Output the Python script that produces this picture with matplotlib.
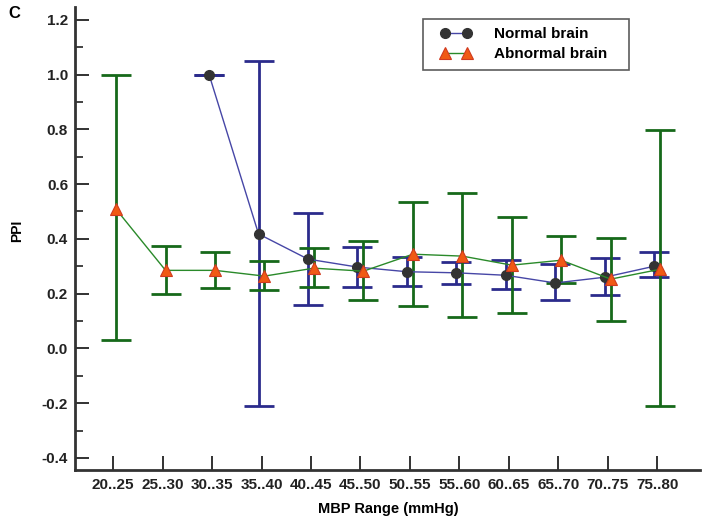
import numpy as np
import matplotlib
matplotlib.use('Agg')
import matplotlib.pyplot as plt
from matplotlib.ticker import MultipleLocator
from matplotlib.lines import Line2D
from matplotlib.legend_handler import HandlerLine2D

plt.rcParams['font.family'] = ['Liberation Sans', 'DejaVu Sans']
plt.rcParams['font.weight'] = 'bold'

# Faixas de pressao arterial media
faixas = ['20..25', '25..30', '30..35', '35..40', '40..45', '45..50',
          '50..55', '55..60', '60..65', '65..70', '70..75', '75..80']

# Cerebro normal (sem dados nas duas primeiras faixas)
normal_ppi = [np.nan, np.nan, 1.0, 0.418, 0.326, 0.297, 0.28, 0.276, 0.267, 0.239, 0.26, 0.30]
normal_sup = [np.nan, np.nan, 1.0, 1.048, 0.494, 0.37, 0.334, 0.316, 0.322, 0.309, 0.329, 0.352]
normal_inf = [np.nan, np.nan, 1.0, -0.212, 0.157, 0.224, 0.227, 0.235, 0.217, 0.177, 0.195, 0.259]

# Cerebro anormal
anormal_ppi = [0.508, 0.285, 0.285, 0.264, 0.293, 0.282, 0.344, 0.337, 0.304, 0.322, 0.253, 0.289]
anormal_sup = [1.0, 0.373, 0.352, 0.318, 0.366, 0.392, 0.535, 0.568, 0.48, 0.41, 0.403, 0.799]
anormal_inf = [0.03, 0.197, 0.22, 0.212, 0.223, 0.176, 0.154, 0.114, 0.128, 0.238, 0.099, -0.212]

x = np.arange(len(faixas))
n_ppi = np.array(normal_ppi)
a_ppi = np.array(anormal_ppi)
n_err = [n_ppi - np.array(normal_inf), np.array(normal_sup) - n_ppi]
a_err = [a_ppi - np.array(anormal_inf), np.array(anormal_sup) - a_ppi]

fig = plt.figure(figsize=(7.08, 5.25), dpi=100)
ax = fig.add_axes([0.106, 0.1048, 0.883, 0.882])

# barras de erro
ax.errorbar(x - 0.06, n_ppi, yerr=n_err, fmt='none', ecolor='#2b2b8c',
            elinewidth=2, capsize=11, capthick=2, zorder=2)
ax.errorbar(x + 0.06, a_ppi, yerr=a_err, fmt='none', ecolor='#16691a',
            elinewidth=2, capsize=11, capthick=2, zorder=2)

# linhas e marcadores
ax.plot(x - 0.06, n_ppi, color='#4646a6', lw=1, marker='o', ms=7,
        mfc='#333333', mec='#333333', label='Normal brain', zorder=3)
ax.plot(x + 0.06, a_ppi, color='#2a8a2a', lw=1, marker='^', ms=9,
        mfc='#f05a14', mec='#d03a20', mew=0.8, label='Abnormal brain', zorder=4)

ax.set_xlim(-0.77, 11.87)
ax.set_ylim(-0.444, 1.247)
ax.set_xticks(x)
ax.set_xticklabels(faixas)
ax.yaxis.set_minor_locator(MultipleLocator(0.1))
ax.set_yticks([-0.4, -0.2, 0.0, 0.2, 0.4, 0.6, 0.8, 1.0, 1.2])
ax.set_yticklabels(['-0.4', '-0.2', '0.0', '0.2', '0.4', '0.6', '0.8', '1.0', '1.2'])

ax.tick_params(axis='both', which='major', direction='in', length=10, width=1.3,
               colors='#222222', labelsize=11, pad=5)
ax.tick_params(axis='y', which='minor', direction='in', length=6, width=1.2, colors='#222222')
ax.tick_params(axis='x', pad=6)

for lado in ['top', 'right']:
    ax.spines[lado].set_visible(False)
for lado in ['left', 'bottom']:
    ax.spines[lado].set_linewidth(2)
    ax.spines[lado].set_color('#333333')

# rotulos dos eixos em posicao fixa
fig.text(388 / 708, 1 - 509 / 525, 'MBP Range (mmHg)', fontsize=10.5, fontweight='bold',
         ha='center', va='center')
fig.text(17 / 708, 1 - 231 / 525, 'PPI', fontsize=10, fontweight='bold',
         rotation=90, ha='center', va='center')

leg = ax.legend(loc='upper left',
                bbox_to_anchor=(423 / 708, 1 - 67 / 525, 206 / 708, 48 / 525),
                bbox_transform=fig.transFigure, mode='expand', borderaxespad=0,
                handler_map={Line2D: HandlerLine2D(numpoints=2, xpad=0.6)},
                fontsize=11, frameon=True, fancybox=False, handlelength=2.6,
                borderpad=0.55, labelspacing=0.38, handletextpad=1.5)
leg.get_frame().set_edgecolor('#333333')
leg.get_frame().set_linewidth(1.2)

fig.text(0.012, 0.965, 'C', fontsize=12, fontweight='bold')

fig.savefig('out.png', dpi=100)
